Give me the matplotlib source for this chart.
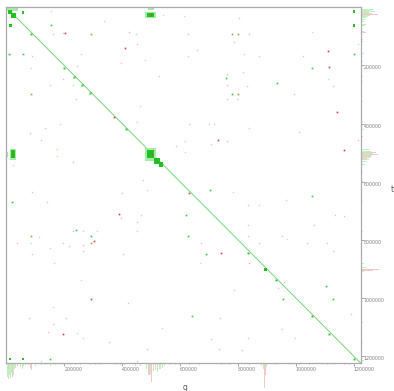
import matplotlib
matplotlib.use("Agg")
import matplotlib.pyplot as plt
from matplotlib.patches import Rectangle

# genome length (bp) of both sequences
g_len = 1224000
t_len = 1224000

# diagonal alignment
diag_x = [0, 1224000]
diag_y = [0, 1224000]

# darker spots along the diagonal (kb)
diag_spot_x = [86, 200, 234, 261, 288, 412, 834, 931, 1055, 1114, 1200]
diag_spot_y = [91, 208, 240, 266, 294, 418, 845, 938, 1062, 1124, 1209]

# block alignments (kb): x0, x1, y0, y1
dark_blocks = [
    (16, 33, 20, 37), (5, 19, 8, 22), (53, 62, 14, 22), (8, 20, 58, 68),
    (1198, 1203, 10, 20), (1198, 1203, 58, 67), (485, 511, 20, 34),
    (17, 31, 491, 520), (485, 511, 491, 520), (511, 531, 520, 540),
    (529, 542, 534, 548), (8, 16, 1206, 1213), (54, 62, 1206, 1213),
    (891, 901, 897, 907),
]
light_blocks = [
    (4, 40, 4, 12), (490, 510, 4, 9), (2, 6, 497, 514), (478, 518, 484, 528),
    (480, 516, 16, 38), (12, 35, 486, 524),
]
red_blocks = [
    (499, 503, 24, 31), (22, 26, 505, 510), (496, 500, 500, 506),
    (503, 506, 506, 510), (520, 523, 528, 531), (894, 898, 900, 904),
]

# off-diagonal hits (kb)
green_x = [1200, 759, 1055, 934, 779, 703, 1055, 21, 621, 293, 628, 641, 690,
           1103, 955, 1127, 241, 152, 10, 59, 155]
green_y = [159, 245, 210, 262, 297, 628, 648, 669, 714, 786, 786, 1062, 848,
           959, 1003, 1003, 765, 1210, 160, 160, 62]

light_x = [155, 14, 1214, 1055, 821, 1110, 259, 479, 338, 614, 541, 152, 186,
           462, 452, 176, 617, 617, 86, 24, 486, 628, 231, 783, 466, 86, 152,
           259, 162, 538, 245, 265, 121, 872, 969, 669, 786, 952, 996, 448, 176]
light_y = [14, 159, 128, 86, 159, 248, 159, 183, 48, 31, 28, 266, 400, 341,
           393, 486, 497, 459, 210, 541, 628, 166, 266, 634, 714, 810, 828, 938,
           1031, 1103, 1121, 1138, 1218, 679, 796, 879, 972, 1107, 1138, 93, 510]

pink_x = [197, 424, 452, 90, 245, 197, 241, 134, 83, 397, 528, 631, 121, 586,
          231, 90, 400, 472, 659, 162, 628, 803, 838, 786, 872, 1024, 817, 762,
          762, 831, 1127, 993, 797, 762, 700, 717, 838, 1010, 762, 1214, 707,
          965, 141, 397, 452, 231, 265, 314, 452, 114, 38, 197, 217, 265, 265,
          90, 403, 166, 421, 79, 207, 162, 145, 355, 486, 452, 834, 1134, 1165,
          1062, 834, 834, 952, 872, 1038, 1107, 672, 1127, 838, 959, 938, 1190,
          738, 834, 707, 734, 814]
pink_y = [90, 86, 128, 166, 203, 248, 317, 417, 431, 190, 238, 403, 455, 479,
          531, 634, 638, 593, 148, 93, 93, 38, 93, 121, 169, 169, 224, 231, 269,
          272, 272, 297, 314, 314, 400, 403, 414, 428, 459, 455, 472, 662, 669,
          724, 738, 769, 769, 769, 769, 790, 810, 810, 821, 817, 838, 848, 848,
          879, 1017, 1069, 1069, 1090, 1117, 1152, 1176, 1218, 679, 714, 717,
          748, 748, 786, 786, 810, 810, 810, 810, 838, 879, 945, 965, 1055,
          1069, 1138, 1141, 1176, 1179]

red_x = [410, 372, 1110, 1114, 1141, 731, 1165, 390, 303, 293, 197, 741, 203, 631]
red_y = [141, 379, 152, 207, 362, 455, 490, 710, 803, 1003, 1124, 845, 90, 638]

olive_x = [293, 86, 779, 800, 800, 86, 293]
olive_y = [93, 297, 93, 93, 297, 786, 810]

# coverage histogram along g (kb, count)
hx_green_pos = [3.4, 6.9, 10.3, 13.8, 17.2, 20.7, 24.1, 27.6, 31, 48.3, 55.2,
                58.6, 75.9, 100, 120.7, 151.7, 169, 193, 221, 255, 290, 324,
                358.6, 410, 462, 483, 490, 496.5, 503, 510, 517, 524, 531, 538,
                548, 565.5, 600, 634, 669, 720.6, 772, 841, 883, 890, 893, 900,
                945, 1014, 1083, 1134, 1186, 1203, 65, 140, 210, 270, 345, 380,
                430, 585, 650, 700, 745, 790, 860, 930, 980, 1040, 1110, 1160]
hx_green_cnt = [14, 16, 12, 15, 10, 8, 12, 6, 5, 4, 6, 3, 2, 3, 2, 3, 2, 2, 2,
                1.5, 2, 2, 1, 2, 3, 6, 9, 11, 10, 8, 7, 9, 6, 5, 3, 2, 2, 1, 2,
                1, 1.5, 2, 3, 6, 9, 4, 1, 2, 1, 1.5, 2, 1, 1.5, 1, 1.5, 1, 1,
                1.5, 1, 1.5, 1, 1, 1.5, 1, 1, 1.5, 1, 1, 1.5, 1]
hx_pink_pos = [6.9, 20.7, 37.9, 82.8, 86.2, 134.5, 238, 307, 393, 445, 493,
               500, 507, 521, 634, 807, 893, 896.5, 979, 1048, 1169]
hx_pink_cnt = [6, 14, 3, 5, 7, 2, 2, 2, 2, 3, 12, 19, 8, 4, 2, 1, 25, 12, 2,
               1.5, 2]

# coverage histogram along t (kb, count)
hy_green_pos = [6.9, 10.3, 13.8, 17.2, 20.7, 24.1, 27.6, 31, 34.5, 41.4, 48.3,
                58.6, 62, 82.8, 110, 134.5, 158.6, 186, 221, 255, 296.5, 324,
                358.6, 393, 420.7, 490, 496.5, 503, 510, 517, 524, 531, 541,
                565.5, 600, 634, 669, 720.6, 772, 824, 883, 896.5, 903, 910,
                962, 1014, 1083, 1152, 1203, 1214, 140, 240, 280, 440, 460,
                580, 700, 750, 800, 860, 930, 990, 1050, 1120, 1180]
hy_green_cnt = [13, 10, 14, 8, 11, 12, 9, 7, 5, 4, 3, 5, 4, 2, 2, 1.5, 3, 2,
                1, 2, 1, 2, 1, 2, 3, 8, 10, 12, 11, 9, 8, 6, 4, 2, 2, 1.5, 2, 1,
                2, 1, 3, 6, 8, 3, 1, 2, 1, 2, 4, 3, 1.5, 1, 1.5, 1, 1.5, 1.5, 1,
                1.5, 1, 1, 1.5, 1, 1.5, 1, 1.5]
hy_pink_pos = [20.7, 24.1, 82.8, 86.2, 117, 169, 238, 324, 445, 500, 507, 514,
               521, 669, 903, 907, 1083, 1169]
hy_pink_cnt = [10, 17, 3, 5, 2, 1, 2, 1.5, 2, 15, 17, 10, 6, 1, 18, 12, 2, 1]

tick_vals = [200000, 400000, 600000, 800000, 1000000, 1200000]
tick_labels = ["200000", "400000", "600000", "800000", "1000000", "1200000"]

W, H = 394, 391
fig = plt.figure(figsize=(W / 100, H / 100), dpi=100)
x0, x1, y0, y1 = 6.3, 360.6, 7.3, 363.0
main_rect = [x0 / W, 1 - y1 / H, (x1 - x0) / W, (y1 - y0) / H]

hg = "#bff0bf"
hp = "#f5c8c8"

# bottom histogram
axb = fig.add_axes([x0 / W, 0, (x1 - x0) / W, (H - y1) / H])
axb.bar([p * 1000 for p in hx_green_pos], hx_green_cnt, width=3500, color=hg, lw=0)
axb.bar([p * 1000 for p in hx_pink_pos], hx_pink_cnt, width=3500, color=hp, lw=0)
axb.set_xlim(0, g_len)
axb.set_ylim(H - y1, 0)
axb.axis("off")

# right histogram
axr = fig.add_axes([x1 / W, 1 - y1 / H, (W - x1) / W, (y1 - y0) / H])
axr.barh([p * 1000 for p in hy_green_pos], hy_green_cnt, height=3500, color=hg, lw=0)
axr.barh([p * 1000 for p in hy_pink_pos], hy_pink_cnt, height=3500, color=hp, lw=0)
axr.set_ylim(t_len, 0)
axr.set_xlim(0, W - x1)
axr.axis("off")

ax = fig.add_axes(main_rect)
ax.set_xlim(0, g_len)
ax.set_ylim(t_len, 0)

ax.plot(diag_x, diag_y, color="#74d874", lw=0.7, zorder=2)

for bx0, bx1, by0, by1 in light_blocks:
    ax.add_patch(Rectangle((bx0 * 1000, by0 * 1000), (bx1 - bx0) * 1000,
                           (by1 - by0) * 1000, color="#a6eba6", lw=0, zorder=2))
for bx0, bx1, by0, by1 in dark_blocks:
    ax.add_patch(Rectangle((bx0 * 1000, by0 * 1000), (bx1 - bx0) * 1000,
                           (by1 - by0) * 1000, color="#22c022", lw=0, zorder=3))
for bx0, bx1, by0, by1 in red_blocks:
    ax.add_patch(Rectangle((bx0 * 1000, by0 * 1000), (bx1 - bx0) * 1000,
                           (by1 - by0) * 1000, color="#c0503a", lw=0, zorder=4))

def dots(xs, ys, c, ms=1.0, z=3):
    ax.plot([v * 1000 for v in xs], [v * 1000 for v in ys], ls="none",
            marker="s", ms=ms, mew=0, color=c, zorder=z)

dots(light_x, light_y, "#b4eeb4")
dots(pink_x, pink_y, "#f4bcbc")
dots(green_x, green_y, "#3cc83c", ms=1.2)
dots(olive_x, olive_y, "#a0a050", ms=1.2)
dots(red_x, red_y, "#d84040", ms=1.2)
dots(diag_spot_x, diag_spot_y, "#3abd3a", ms=1.4, z=4)

for s in ax.spines.values():
    s.set_color("#aaaaaa")
    s.set_linewidth(0.9)
ax.yaxis.tick_right()
ax.set_xticks(tick_vals)
ax.set_xticklabels(tick_labels, ha="left")
ax.set_yticks(tick_vals)
ax.set_yticklabels(tick_labels, va="top")
ax.tick_params(axis="both", length=2, width=0.6, color="#999999",
               labelsize=3.4, labelcolor="#808080", pad=0.8)
ax.tick_params(axis="y", pad=0.3)

fig.text(185 / W, 1 - 388 / H, "g", ha="center", va="center",
         fontsize=5.5, color="#555555")
fig.text(392 / W, 1 - 189 / H, "t", ha="center", va="center",
         fontsize=5.5, color="#555555")

fig.savefig("out.png", dpi=100)
